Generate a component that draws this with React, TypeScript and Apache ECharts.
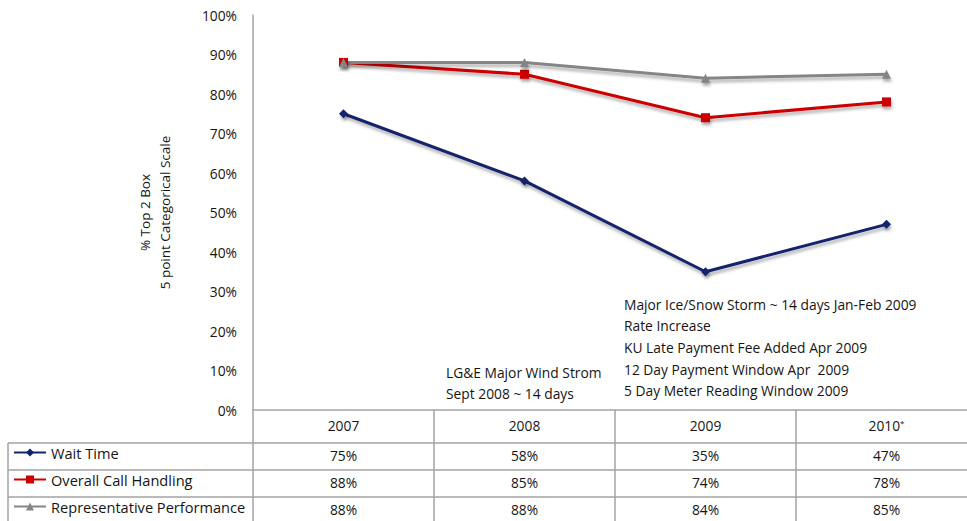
import React, { useEffect, useRef } from "react";
import * as echarts from "echarts";

const categories = ["2007", "2008", "2009", "2010*"];
const seriesNames = ["Wait Time", "Overall Call Handling", "Representative Performance"];
const waitTime = [75, 58, 35, 47];
const overallCallHandling = [88, 85, 74, 78];
const repPerformance = [88, 88, 84, 85];
const yMin = 0;
const yMax = 100;
const yInterval = 10;
const yAxisName = "% Top 2 Box\n5 point Categorical Scale";
const note2008 = ["LG&E Major Wind Strom", "Sept 2008 ~ 14 days"];
const note2009 = [
  "Major Ice/Snow Storm ~ 14 days Jan-Feb 2009",
  "Rate Increase",
  "KU Late Payment Fee Added Apr 2009",
  "12 Day Payment Window Apr  2009",
  "5 Day Meter Reading Window 2009",
];

const FONT = "Open Sans";
const FS = 13.8;
const TXT = "#151515";
const GRID_LINE = "#a3a3a3";
const colors = ["#13236b", "#cc0000", "#858585"];
const symbols = ["diamond", "rect", "triangle"];
const seriesData = [waitTime, overallCallHandling, repPerformance];

export default function App() {
  const ref = useRef<HTMLDivElement>(null);
  useEffect(() => {
    if (!ref.current) return;
    const chart = echarts.init(ref.current, undefined, { renderer: "svg" });

    const catLabel = (v: string) =>
      v.endsWith("*") ? `{y|${v.slice(0, -1)}}{s|*}` : `{y|${v}}`;

    const rowAxes = [
      { offset: 0, tick: 33, margin: 8, fmt: catLabel, rich: true },
      ...seriesData.map((arr, i) => ({
        offset: 33 + i * 27,
        tick: 27,
        margin: 5,
        fmt: (_v: string, idx: number) => `${arr[idx]}%`,
        rich: false,
      })),
    ];

    const xAxes = rowAxes.map((r) => ({
      type: "category",
      data: categories,
      position: "bottom",
      offset: r.offset,
      boundaryGap: true,
      axisLine: { show: true, lineStyle: { color: GRID_LINE, width: 1.5 } },
      axisTick: {
        show: true,
        interval: 0,
        alignWithLabel: false,
        length: r.tick,
        lineStyle: { color: GRID_LINE, width: 1.5 },
      },
      axisLabel: {
        interval: 0,
        margin: r.margin,
        color: TXT,
        fontFamily: FONT,
        fontSize: FS,
        formatter: r.fmt,
        rich: r.rich
          ? {
              y: { fontFamily: FONT, fontSize: FS, color: TXT },
              s: { fontFamily: FONT, fontSize: 8, color: TXT, verticalAlign: "top" },
            }
          : undefined,
      },
      splitLine: { show: false },
    }));

    const noteText = (lines: string[], x: number, y0: number, dy: number) =>
      lines.map((t, i) => ({
        type: "text",
        x,
        y: y0 + i * dy,
        style: {
          text: t,
          fill: TXT,
          font: `${FS}px ${FONT}`,
          verticalAlign: "middle",
          align: "left",
        },
      }));

    const tableLines = [443, 470, 497].map((y) => ({
      type: "line",
      shape: { x1: 8, y1: y, x2: 253, y2: y },
      style: { stroke: GRID_LINE, lineWidth: 1.5 },
    }));

    chart.setOption({
      animation: false,
      grid: { left: 253, right: 3, top: 15, bottom: 111, containLabel: false },
      legend: {
        orient: "vertical",
        left: 13,
        top: 445,
        padding: 0,
        height: 200,
        itemWidth: 32,
        itemHeight: 10,
        itemGap: 12,
        textStyle: { color: TXT, fontFamily: FONT, fontSize: 14.6, lineHeight: 14 },
        data: seriesNames,
      },
      xAxis: xAxes,
      yAxis: {
        type: "value",
        min: yMin,
        max: yMax,
        interval: yInterval,
        name: yAxisName,
        nameLocation: "middle",
        nameGap: 78,
        nameTextStyle: { color: TXT, fontFamily: FONT, fontSize: 13.5, lineHeight: 20 },
        axisLine: { show: true, lineStyle: { color: GRID_LINE, width: 1.5 } },
        axisTick: { show: false },
        splitLine: { show: false },
        axisLabel: {
          margin: 16,
          color: TXT,
          fontFamily: FONT,
          fontSize: FS,
          formatter: "{value}%",
        },
      },
      series: seriesNames.map((name, i) => ({
        name,
        type: "line",
        xAxisIndex: 0,
        data: seriesData[i],
        symbol: symbols[i],
        symbolSize: 9,
        lineStyle: {
          color: colors[i],
          width: 3,
          shadowColor: "rgba(0,0,0,0.3)",
          shadowBlur: 3,
          shadowOffsetX: 1,
          shadowOffsetY: 3,
        },
        itemStyle: {
          color: colors[i],
          shadowColor: "rgba(0,0,0,0.3)",
          shadowBlur: 3,
          shadowOffsetX: 1,
          shadowOffsetY: 3,
        },
      })),
      graphic: [
        ...tableLines,
        {
          type: "line",
          shape: { x1: 8, y1: 443, x2: 8, y2: 524 },
          style: { stroke: GRID_LINE, lineWidth: 1.5 },
        },
        ...noteText(note2008, 446, 372, 21),
        ...noteText(note2009, 624, 304, 21.7),
      ],
    });

    return () => chart.dispose();
  }, []);

  return (
    <div
      style={{
        position: "fixed",
        left: 0,
        top: 0,
        width: 967,
        height: 521,
        overflow: "hidden",
        background: "#fff",
      }}
    >
      <div ref={ref} style={{ width: 980, height: 521 }} />
    </div>
  );
}
